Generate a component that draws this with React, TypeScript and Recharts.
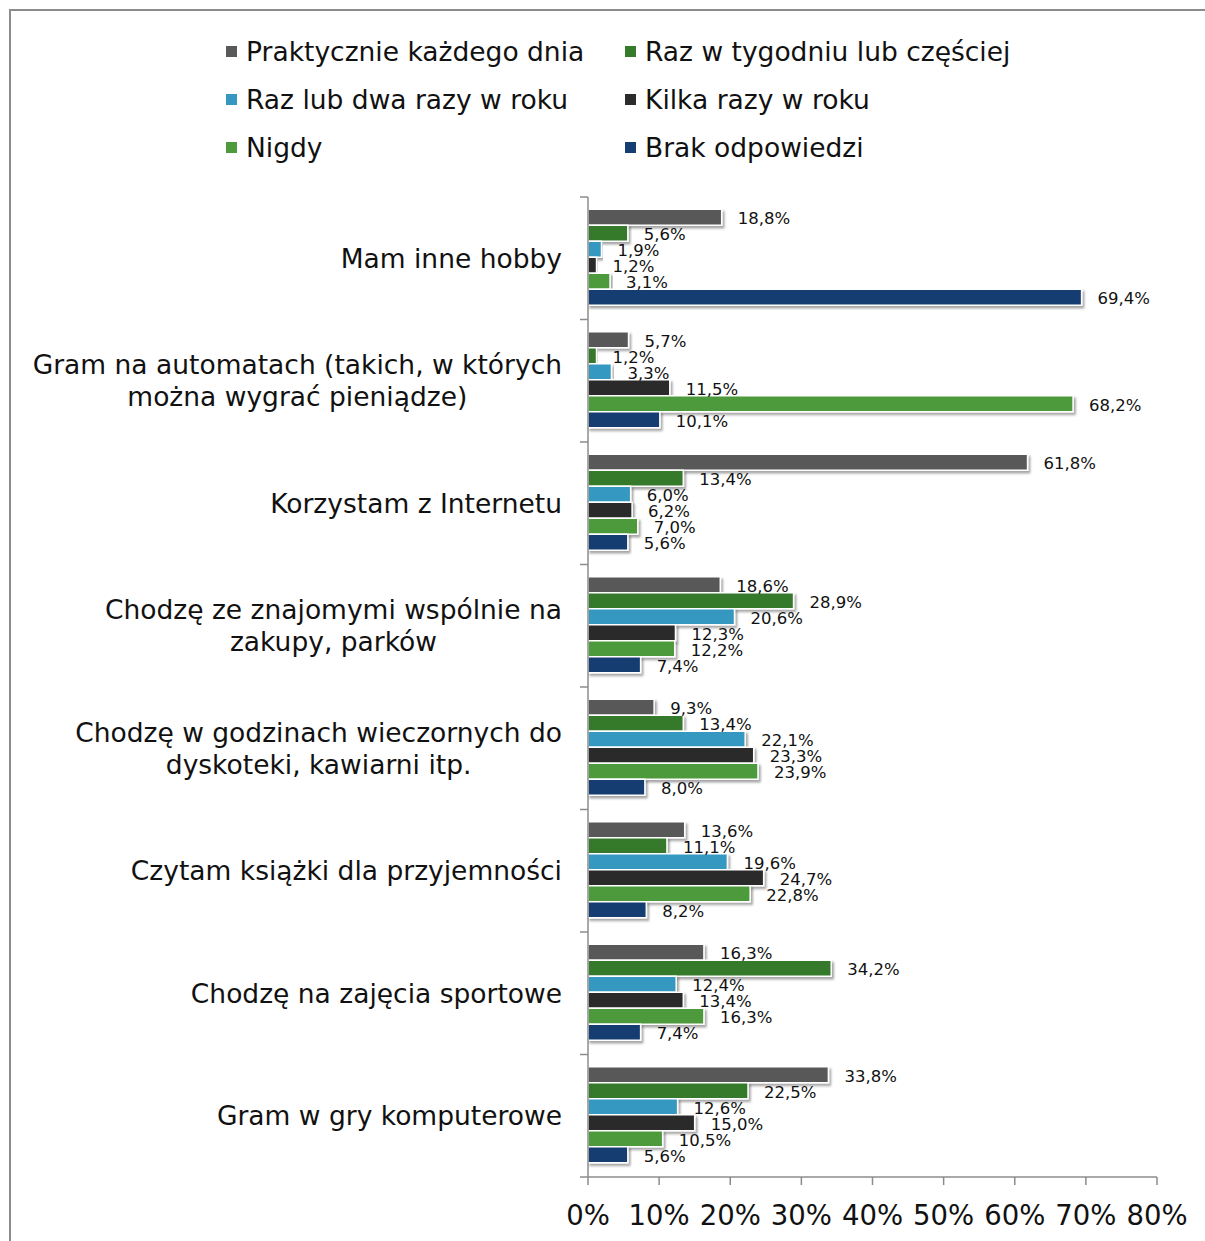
import { BarChart, Bar, XAxis, YAxis, LabelList } from 'recharts'

const CATEGORIES = [
  'Mam inne hobby',
  'Gram na automatach (takich, w których\nmożna wygrać pieniądze)',
  'Korzystam z Internetu',
  'Chodzę ze znajomymi wspólnie na\nzakupy, parków',
  'Chodzę w godzinach wieczornych do\ndyskoteki, kawiarni itp.',
  'Czytam książki dla przyjemności',
  'Chodzę na zajęcia sportowe',
  'Gram w gry komputerowe',
]

const SERIES_NAMES = [
  'Praktycznie każdego dnia',
  'Raz w tygodniu lub częściej',
  'Raz lub dwa razy w roku',
  'Kilka razy w roku',
  'Nigdy',
  'Brak odpowiedzi',
]

const DAILY = [18.8, 5.7, 61.8, 18.6, 9.3, 13.6, 16.3, 33.8]
const WEEKLY = [5.6, 1.2, 13.4, 28.9, 13.4, 11.1, 34.2, 22.5]
const ONCE_TWICE = [1.9, 3.3, 6.0, 20.6, 22.1, 19.6, 12.4, 12.6]
const FEW_TIMES = [1.2, 11.5, 6.2, 12.3, 23.3, 24.7, 13.4, 15.0]
const NEVER = [3.1, 68.2, 7.0, 12.2, 23.9, 22.8, 16.3, 10.5]
const NO_ANSWER = [69.4, 10.1, 5.6, 7.4, 8.0, 8.2, 7.4, 5.6]

const X_TICKS = [0, 10, 20, 30, 40, 50, 60, 70, 80]

const SERIES_VALUES = [DAILY, WEEKLY, ONCE_TWICE, FEW_TIMES, NEVER, NO_ANSWER]
const COLORS = ['#595959', '#367a2b', '#3698c1', '#2c2c2c', '#4e9a3d', '#163e72']

const data = CATEGORIES.map((name, i) => {
  const row: Record<string, string | number> = { name }
  SERIES_VALUES.forEach((vals, s) => {
    row[`s${s}`] = vals[i]
  })
  return row
})

const FONT = '"DejaVu Sans", Verdana, sans-serif'
const AXIS_COLOR = '#8c8c8c'
const PLOT_LEFT = 588
const PLOT_TOP = 197
const PLOT_BOTTOM = 1177
const BAND = (PLOT_BOTTOM - PLOT_TOP) / CATEGORIES.length
const CAT_FONT = 26.5

let measureCtx: CanvasRenderingContext2D | null = null
function measure(text: string, size: number) {
  if (!measureCtx) measureCtx = document.createElement('canvas').getContext('2d')
  if (!measureCtx) return text.length * size * 0.6
  measureCtx.font = `${size}px ${FONT}`
  return measureCtx.measureText(text).width
}

const fmt = (v: number) => `${v.toFixed(1).replace('.', ',')}%`

function YTick(props: any) {
  const { y, payload, index } = props
  const lines: string[] = String(payload.value).split('\n')
  const lineH = 32
  const right = PLOT_LEFT - 26
  const startY = y - ((lines.length - 1) * lineH) / 2
  const maxW = Math.max(...lines.map((l) => measure(l, CAT_FONT)))
  const multi = lines.length > 1
  return (
    <g>
      <line x1={PLOT_LEFT - 8} x2={PLOT_LEFT} y1={y - BAND / 2} y2={y - BAND / 2} stroke={AXIS_COLOR} strokeWidth={1.5} />
      {index === CATEGORIES.length - 1 && (
        <line x1={PLOT_LEFT - 8} x2={PLOT_LEFT} y1={y + BAND / 2} y2={y + BAND / 2} stroke={AXIS_COLOR} strokeWidth={1.5} />
      )}
      {lines.map((l, i) => (
        <text
          key={i}
          x={multi ? right - maxW / 2 : right}
          y={startY + i * lineH}
          textAnchor={multi ? 'middle' : 'end'}
          dominantBaseline="central"
          fontSize={CAT_FONT}
          fontFamily={FONT}
          fill="#111"
        >
          {l}
        </text>
      ))}
    </g>
  )
}

function XTick(props: any) {
  const { x, payload } = props
  return (
    <text x={x} y={PLOT_BOTTOM + 38} textAnchor="middle" dominantBaseline="central" fontSize={27.5} fontFamily={FONT} fill="#111">
      {payload.value}%
    </text>
  )
}

function Legend6() {
  return (
    <div style={{ position: 'absolute', left: 226, top: 27, display: 'grid', gridTemplateColumns: '399px 400px', fontFamily: FONT, fontSize: 26.5, color: '#111' }}>
      {SERIES_NAMES.map((n, i) => (
        <div key={n} style={{ display: 'flex', alignItems: 'center', height: 48 }}>
          <span style={{ width: 11, height: 11, background: COLORS[i], marginRight: 9, flexShrink: 0 }} />
          <span>{n}</span>
        </div>
      ))}
    </div>
  )
}

export default function App() {
  return (
    <div style={{ position: 'absolute', left: 0, top: 0, width: 1205, height: 1241, overflow: 'hidden', background: '#fff' }}>
      <div style={{ position: 'absolute', left: 9, top: 9, width: 1230, height: 1270, border: `2px solid ${AXIS_COLOR}` }} />
      <Legend6 />
      <div style={{ position: 'absolute', left: 0, top: 0 }}>
        <BarChart
          width={1205}
          height={1241}
          layout="vertical"
          data={data}
          margin={{ top: PLOT_TOP, right: 48, bottom: 0, left: 0 }}
          barCategoryGap="10%"
          barGap={0}
        >
          <defs>
            <filter id="barShadow" x="-5%" y="-30%" width="115%" height="190%">
              <feDropShadow dx="2" dy="2.5" stdDeviation="1.3" floodColor="#000" floodOpacity="0.35" />
            </filter>
          </defs>
          <XAxis
            type="number"
            domain={[0, 80]}
            ticks={X_TICKS}
            interval={0}
            height={1241 - PLOT_BOTTOM}
            axisLine={{ stroke: AXIS_COLOR, strokeWidth: 1.5 }}
            tickLine={{ stroke: AXIS_COLOR, strokeWidth: 1.5 }}
            tickSize={8}
            tick={<XTick />}
          />
          <YAxis
            type="category"
            dataKey="name"
            width={PLOT_LEFT}
            interval={0}
            axisLine={{ stroke: AXIS_COLOR, strokeWidth: 1.5 }}
            tickLine={false}
            tick={<YTick />}
          />
          {SERIES_NAMES.map((n, s) => (
            <Bar
              key={n}
              dataKey={`s${s}`}
              name={n}
              fill={COLORS[s]}
              stroke="#fff"
              strokeWidth={1.5}
              isAnimationActive={false}
              style={{ filter: 'url(#barShadow)' }}
            >
              <LabelList
                dataKey={`s${s}`}
                position="right"
                offset={16}
                formatter={(v: any) => fmt(Number(v))}
                fontSize={16.5}
                fontFamily={FONT}
                fill="#111"
                dy={1}
              />
            </Bar>
          ))}
        </BarChart>
      </div>
    </div>
  )
}
